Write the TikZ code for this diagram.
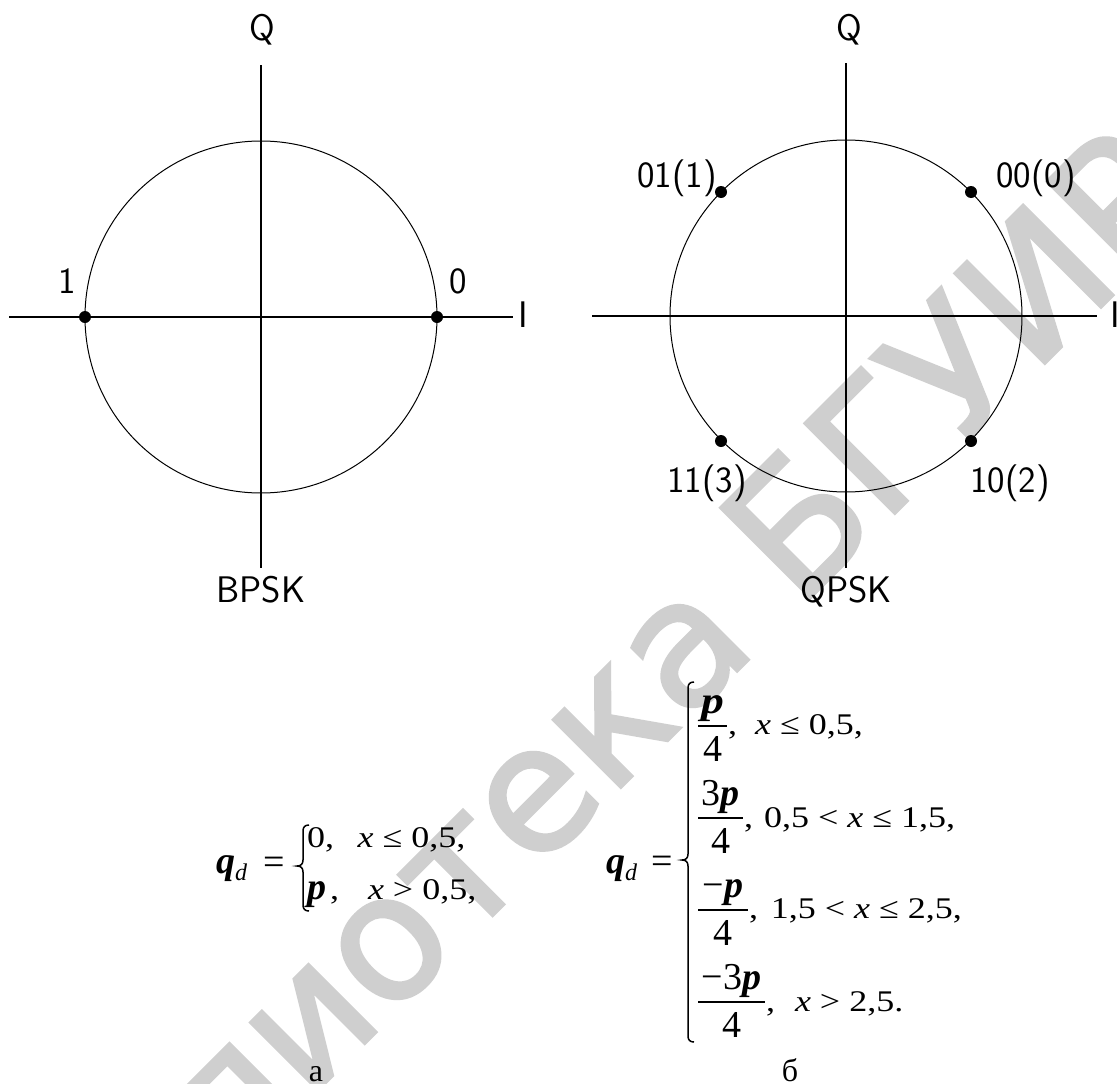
\documentclass[tikz,border=0pt]{standalone}
\usepackage{fontspec}
\setmainfont{Liberation Serif}
\newfontfamily\wmfont[FakeBold=2]{DejaVu Sans}
\newcommand{\fsz}[1]{\fontsize{#1}{#1}\selectfont}
\newcommand{\bp}{\textbf{\textit{p}}}
\newcommand{\cnd}[1]{\scalebox{1.2}[1]{\fsz{30}#1}}
\begin{document}
\begin{tikzpicture}[x=1pt,y=-1pt,
  axis/.style={line width=1.3pt},
  ring/.style={line width=1pt},
  dot/.style={circle,fill=black,inner sep=0pt,minimum size=12pt},
  cad/.style={font=\sffamily\fsz{37},inner sep=0pt,anchor=base},
  mtxt/.style={font=\fsz{38},inner sep=0pt,anchor=base},
  mtxtw/.style={font=\fsz{38},inner sep=0pt,anchor=base west},
  cond/.style={inner sep=0pt,anchor=base west},
  fracbar/.style={line width=1.4pt},
  bracep/.style={line width=1.5pt},
  wm/.style={font=\wmfont\fsz{174},text=black!19,inner sep=0pt,anchor=base west,rotate=45},
  caption/.style={font=\fsz{32},inner sep=0pt,anchor=base}
]
\useasboundingbox (0,0) rectangle (1117,1084);
\fill[white] (0,0) rectangle (1117,1084);
\node[wm] (wm) at (-12,1420) {Библиотека БГУИР};

% ---------- BPSK ----------
\coordinate (L) at (261,317);
\coordinate (Lw) at (9,317); \coordinate (Le) at (513,317);
\coordinate (Ln) at (261,65); \coordinate (Ls) at (261,568);
\draw[axis] (Lw) -- (Le);
\draw[axis] (Ln) -- (Ls);
\draw[ring] (L) circle (176);
\node[dot] (L0) at (437,317) {};
\node[dot] (L1) at (85,317) {};
\node[cad] (LQ) at (262,40) {Q};
\node[cad] (LI) at (523,327) {I};
\node[cad] (Lone) at (67,293) {1};
\node[cad] (Lzero) at (458,293) {0};
\node[cad] (Lname) at (261,602) {BPSK};

% ---------- QPSK ----------
\coordinate (R) at (846,316);
\coordinate (Rw) at (592,316); \coordinate (Re) at (1097,316);
\coordinate (Rn) at (846,63); \coordinate (Rs) at (846,568);
\draw[axis] (Rw) -- (Re);
\draw[axis] (Rn) -- (Rs);
\draw[ring] (R) circle (176);
\node[dot] (R00) at (971,192) {};
\node[dot] (R01) at (721,192) {};
\node[dot] (R11) at (721,441) {};
\node[dot] (R10) at (971,441) {};
\node[cad] (RQ) at (849,40) {Q};
\node[cad] (RI) at (1115,327) {I};
\node[cad] (l01) at (677,187) {01(1)};
\node[cad] (l00) at (1036,187) {00(0)};
\node[cad] (l11) at (707,492) {11(3)};
\node[cad] (l10) at (1010,492) {10(2)};
\node[cad] (Rname) at (846,602) {QPSK};

% ---------- left formula ----------
\node[mtxtw] (qL) at (216,873) {\textbf{\textit{q}}\raisebox{-7pt}{\fsz{24}\textit{d}}};
\node[mtxt] (eqL) at (274,874) {=};
\draw[bracep] (309,825) .. controls (305,825) and (303,827) .. (303,831) -- (303,860)
  .. controls (303,864) and (301,866) .. (297,866)
  .. controls (301,866) and (303,868) .. (303,872) -- (303,905)
  .. controls (303,909) and (305,911) .. (309,911);
\node[cond] (lr1) at (307,847) {\cnd{0,\hspace{0.65em}\textit{x} ≤ 0,5,}};
\node[mtxtw] (lr2p) at (307,899) {\bp};
\node[cond] (lr2) at (330,899) {\cnd{,\hspace{0.8em}\textit{x} > 0,5,}};
\node[caption] (capa) at (316,1081) {а};

% ---------- right formula ----------
\node[mtxtw] (qR) at (606,873) {\textbf{\textit{q}}\raisebox{-7pt}{\fsz{24}\textit{d}}};
\node[mtxt] (eqR) at (662,873) {=};
\draw[bracep] (694,682) .. controls (690,682) and (688,684) .. (688,688) -- (688,854)
  .. controls (688,858) and (686,860) .. (682,860)
  .. controls (686,860) and (688,862) .. (688,866) -- (688,1036)
  .. controls (688,1040) and (690,1042) .. (694,1042);
% row 1
\coordinate (b1a) at (698,726); \coordinate (b1b) at (727,726);
\draw[fracbar] (b1a) -- (b1b);
\node[mtxt] (n1) at (712.5,713) {\scalebox{1.2}[1]{\bp}};
\node[mtxt] (d1) at (712.5,761) {4};
\node[cond] (c1) at (728,734) {\cnd{,\hspace{0.5em}\textit{x} ≤ 0,5,}};
% row 2
\coordinate (b2a) at (698,818); \coordinate (b2b) at (743,818);
\draw[fracbar] (b2a) -- (b2b);
\node[mtxt] (n2) at (720.5,805) {3\bp};
\node[mtxt] (d2) at (720.5,853) {4};
\node[cond] (c2) at (744,827) {\cnd{,\hspace{0.3em}0,5 < \textit{x} ≤ 1,5,}};
% row 3
\coordinate (b3a) at (698,910); \coordinate (b3b) at (748,910);
\draw[fracbar] (b3a) -- (b3b);
\node[mtxt] (n3) at (723,897) {−\bp};
\node[mtxt] (d3) at (723,945) {4};
\node[cond] (c3) at (749,918) {\cnd{,\hspace{0.35em}1,5 < \textit{x} ≤ 2,5,}};
% row 4
\coordinate (b4a) at (698,1002); \coordinate (b4b) at (765,1002);
\draw[fracbar] (b4a) -- (b4b);
\node[mtxt] (n4) at (731.5,989) {−3\bp};
\node[mtxt] (d4) at (731.5,1037) {4};
\node[cond] (c4) at (766,1011) {\cnd{,\hspace{0.55em}\textit{x} > 2,5.}};
\node[caption] (capb) at (790,1081) {б};
\end{tikzpicture}
\end{document}
